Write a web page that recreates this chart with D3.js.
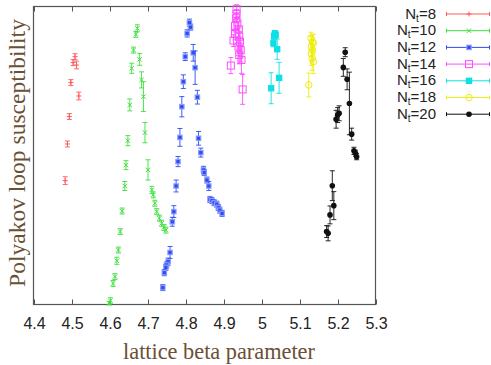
<!DOCTYPE html>
<html>
<head>
<meta charset="utf-8">
<script src="https://cdn.jsdelivr.net/npm/d3@7"></script>
<style>
html,body{margin:0;padding:0;background:#fff;}
svg{display:block;}
</style>
</head>
<body>
<svg id="chart" width="491" height="365"></svg>
<script>
// ---- data (beta, susceptibility in arbitrary units, error) ----
const xTicks = [4.4, 4.5, 4.6, 4.7, 4.8, 4.9, 5.0, 5.1, 5.2, 5.3];
const xTickLabels = ["4.4","4.5","4.6","4.7","4.8","4.9","5","5.1","5.2","5.3"];
const seriesNames = ["N_t=8","N_t=10","N_t=12","N_t=14","N_t=16","N_t=18","N_t=20"];

const nt8Beta = [4.508, 4.503, 4.512, 4.497, 4.518, 4.493, 4.488, 4.482];
const nt8Chi  = [83.0, 81.0, 80.2, 74.3, 69.8, 62.9, 53.7, 41.4];
const nt8Err  = [1.0, 1.0, 1.3, 1.0, 1.3, 1.0, 1.0, 1.3];

const nt10Beta = [4.672, 4.668, 4.662, 4.678, 4.657, 4.683, 4.688, 4.652, 4.692, 4.647, 4.642, 4.700, 4.639,
                  4.710, 4.714, 4.718, 4.723, 4.730, 4.736, 4.742, 4.747,
                  4.632, 4.627, 4.622, 4.618, 4.613, 4.608, 4.601, 4.598];
const nt10Chi  = [92.5, 90.5, 85.2, 82.1, 79.1, 75.2, 69.6, 66.8, 57.5, 54.8, 46.6, 45.0, 39.6,
                  38.3, 36.6, 33.8, 31.0, 28.8, 27.1, 25.7, 24.8,
                  31.2, 24.3, 18.1, 14.5, 9.2, 6.9, 1.1, 0.3];
const nt10Err  = [1.2, 1.0, 1.0, 2.0, 1.7, 2.7, 5.0, 2.0, 3.4, 1.7, 1.5, 3.4, 1.5,
                  1.2, 1.0, 1.0, 1.0, 1.0, 1.0, 1.0, 1.0,
                  1.0, 1.0, 1.0, 1.2, 1.0, 1.0, 1.0, 0.6];

const nt12Beta = [4.809, 4.812, 4.803, 4.819, 4.798, 4.824, 4.793, 4.830, 4.789, 4.784, 4.833, 4.839, 4.779,
                  4.846, 4.848, 4.855, 4.860, 4.774, 4.863, 4.868, 4.874, 4.881, 4.885, 4.889, 4.895,
                  4.768, 4.764, 4.758, 4.753, 4.749, 4.747, 4.743, 4.739];
const nt12Chi  = [94.4, 92.9, 90.8, 84.3, 83.0, 79.3, 74.6, 69.4, 66.2, 55.9, 55.6, 50.8, 47.8,
                  45.0, 44.1, 41.6, 39.6, 39.6, 35.1, 34.7, 34.0, 33.5, 32.4, 31.5, 30.4,
                  31.0, 27.6, 17.3, 14.2, 13.1, 12.3, 10.5, 5.5];
const nt12Err  = [1.2, 1.0, 1.2, 2.8, 1.3, 5.6, 2.3, 2.3, 3.4, 3.0, 2.3, 1.5, 1.7,
                  1.2, 1.0, 1.0, 1.5, 2.0, 1.0, 1.0, 1.0, 1.0, 1.0, 1.0, 1.0,
                  2.0, 1.5, 2.0, 1.2, 1.0, 1.0, 1.0, 1.0];

const nt14Beta = [4.933, 4.933, 4.932, 4.935, 4.929, 4.939, 4.929, 4.940, 4.925, 4.942, 4.938, 4.944, 4.940, 4.946, 4.918, 4.949];
const nt14Chi  = [98.9, 97.3, 95.9, 94.4, 93.3, 92.2, 90.6, 89.7, 88.4, 88.0, 86.4, 85.2, 83.6, 81.9, 80.0, 72.0];
const nt14Err  = [1.5, 1.5, 1.5, 2.0, 2.0, 2.5, 2.0, 3.0, 2.0, 3.5, 3.0, 4.0, 3.0, 4.5, 2.7, 5.0];

const nt16Beta = [5.034, 5.036, 5.032, 5.030, 5.040, 5.045, 5.024];
const nt16Chi  = [90.8, 90.3, 89.9, 87.5, 85.5, 75.9, 72.4];
const nt16Err  = [1.0, 1.0, 1.0, 1.2, 3.4, 5.2, 5.2];

const nt18Beta = [5.129, 5.133, 5.135, 5.130, 5.133, 5.130, 5.132, 5.135, 5.123];
const nt18Chi  = [89.2, 88.0, 87.5, 86.3, 85.2, 84.1, 82.4, 81.3, 73.5];
const nt18Err  = [2.0, 2.5, 3.0, 3.5, 3.5, 4.0, 4.0, 4.0, 4.0];

const nt20Beta = [5.219, 5.214, 5.224, 5.230, 5.203, 5.199, 5.195, 5.236, 5.242, 5.246, 5.249,
                  5.185, 5.189, 5.179, 5.170, 5.174];
const nt20Chi  = [84.5, 79.4, 75.4, 67.3, 64.0, 63.4, 62.0, 57.0, 51.4, 50.6, 49.4,
                  39.7, 33.0, 29.9, 24.3, 23.7];
const nt20Err  = [1.5, 3.0, 3.5, 10.5, 2.5, 2.5, 3.0, 2.0, 1.2, 1.0, 1.0,
                  5.0, 4.7, 3.0, 2.0, 2.5];

const seriesColors = ["#ff5a5a", "#3de03d", "#2f4cf0", "#ff4dff", "#10e0e6", "#eeee10", "#111111"];
const seriesSymbols = ["plus", "cross", "fsquare", "osquare", "bsquare", "ocircle", "fcircle"];

const series = [
  {beta: nt8Beta,  chi: nt8Chi,  err: nt8Err},
  {beta: nt10Beta, chi: nt10Chi, err: nt10Err},
  {beta: nt12Beta, chi: nt12Chi, err: nt12Err},
  {beta: nt14Beta, chi: nt14Chi, err: nt14Err},
  {beta: nt16Beta, chi: nt16Chi, err: nt16Err},
  {beta: nt18Beta, chi: nt18Chi, err: nt18Err},
  {beta: nt20Beta, chi: nt20Chi, err: nt20Err}
].map((s, i) => ({
  name: seriesNames[i], color: seriesColors[i], symbol: seriesSymbols[i],
  points: s.beta.map((b, j) => ({x: b, y: s.chi[j], e: s.err[j]}))
}));

// ---- layout ----
const svg = d3.select("#chart");
const fLeft = 33, fRight = 376, fTop = 6, fBottom = 304;
const x = d3.scaleLinear().domain([4.4, 5.3]).range([34, 376]);
const y = d3.scaleLinear().domain([0, 100]).range([fBottom, fTop]);

// frame
svg.append("rect").attr("x", fLeft + 0.5).attr("y", fTop + 0.5)
  .attr("width", fRight - fLeft - 1).attr("height", fBottom - fTop)
  .attr("fill", "none").attr("stroke", "#555").attr("stroke-width", 1.2);

// bottom axis (ticks inward)
const xAxis = d3.axisBottom(x).tickValues(xTicks).tickSize(-5)
  .tickFormat((d, i) => xTickLabels[i]).tickPadding(13);
const gx = svg.append("g").attr("transform", `translate(0,${fBottom + 0.5})`).call(xAxis);
gx.select(".domain").remove();
gx.selectAll(".tick line").attr("stroke", "#555");
gx.selectAll(".tick text").attr("font-family", "'Liberation Sans', Arial, sans-serif")
  .attr("font-size", 16).attr("fill", "#222");

// top axis ticks (inward)
const xTop = d3.axisTop(x).tickValues(xTicks).tickSize(-5).tickFormat("");
const gt = svg.append("g").attr("transform", `translate(0,${fTop + 0.5})`).call(xTop);
gt.select(".domain").remove();
gt.selectAll(".tick line").attr("stroke", "#555");

// axis titles
const titleColor = "#6a5034";
const xt = svg.append("text").attr("x", 219).attr("y", 359)
  .attr("text-anchor", "middle").attr("font-family", "'Liberation Serif', 'DejaVu Serif', serif")
  .attr("font-size", 20).attr("fill", titleColor).text("lattice beta parameter");
const yt = svg.append("text").attr("transform", "translate(25,153) rotate(-90)")
  .attr("text-anchor", "middle").attr("font-family", "'Liberation Serif', 'DejaVu Serif', serif")
  .attr("font-size", 20).attr("fill", titleColor).text("Polyakov loop susceptibility");
function fitWidth(sel, target) {
  const w = sel.node().getComputedTextLength();
  const fs = +sel.attr("font-size");
  if (w > 0) sel.attr("font-size", (fs * target / w).toFixed(2));
}
fitWidth(xt, 192);
fitWidth(yt, 268);

// symbol drawing
function drawSymbol(g, sym, color, cx, cy) {
  switch (sym) {
    case "plus":
      g.append("path").attr("d", `M${cx-2.5},${cy}H${cx+2.5}M${cx},${cy-2.5}V${cy+2.5}`)
        .attr("stroke", color).attr("stroke-width", 1).attr("fill", "none");
      break;
    case "cross":
      g.append("path").attr("d", `M${cx-2.2},${cy-2.2}L${cx+2.2},${cy+2.2}M${cx-2.2},${cy+2.2}L${cx+2.2},${cy-2.2}`)
        .attr("stroke", color).attr("stroke-width", 1).attr("fill", "none");
      break;
    case "fsquare":
      g.append("rect").attr("x", cx - 2.8).attr("y", cy - 2.8).attr("width", 5.6).attr("height", 5.6)
        .attr("fill", "#8c9cff");
      g.append("rect").attr("x", cx - 1.6).attr("y", cy - 1.6).attr("width", 3.2).attr("height", 3.2)
        .attr("fill", color);
      break;
    case "osquare":
      g.append("rect").attr("x", cx - 3.5).attr("y", cy - 3.5).attr("width", 7).attr("height", 7)
        .attr("fill", "none").attr("stroke", color).attr("stroke-width", 1);
      break;
    case "bsquare":
      g.append("rect").attr("x", cx - 3.2).attr("y", cy - 3.2).attr("width", 6.4).attr("height", 6.4)
        .attr("fill", color);
      break;
    case "ocircle":
      g.append("circle").attr("cx", cx).attr("cy", cy).attr("r", 3.3)
        .attr("fill", "none").attr("stroke", color).attr("stroke-width", 1);
      break;
    case "fcircle":
      g.append("circle").attr("cx", cx).attr("cy", cy).attr("r", 2.8).attr("fill", color);
      break;
  }
}

// data marks
const plot = svg.append("g");
series.forEach(s => {
  const g = plot.append("g");
  s.points.forEach(p => {
    const px = x(p.x), py = y(p.y), y0 = y(p.y - p.e), y1 = y(p.y + p.e);
    g.append("path")
      .attr("d", `M${px},${y1}V${y0}M${px-2.5},${y1}H${px+2.5}M${px-2.5},${y0}H${px+2.5}`)
      .attr("stroke", s.color).attr("stroke-width", 1).attr("fill", "none").attr("opacity", 0.9);
    drawSymbol(g, s.symbol, s.color, px, py);
  });
});

// legend
const leg = svg.append("g");
series.forEach((s, i) => {
  const ly = 14 + i * 16.7;
  const parts = s.name.split("_");
  const sub = parts[1].split("=");
  const t = leg.append("text").attr("x", 436).attr("y", ly + 4.5)
    .attr("text-anchor", "end").attr("font-family", "'Liberation Sans', Arial, sans-serif")
    .attr("font-size", 15).attr("fill", "#222");
  t.append("tspan").text(parts[0]);
  t.append("tspan").attr("font-size", 10).attr("dy", 3).text(sub[0]);
  t.append("tspan").attr("dy", -3).text("=" + sub[1]);
  leg.append("path").attr("d", `M446,${ly}H490M446.5,${ly-2}V${ly+2}M489.5,${ly-2}V${ly+2}`)
    .attr("stroke", s.color).attr("stroke-width", 1).attr("fill", "none");
  drawSymbol(leg, s.symbol, s.color, 469, ly);
});
</script>
</body>
</html>
